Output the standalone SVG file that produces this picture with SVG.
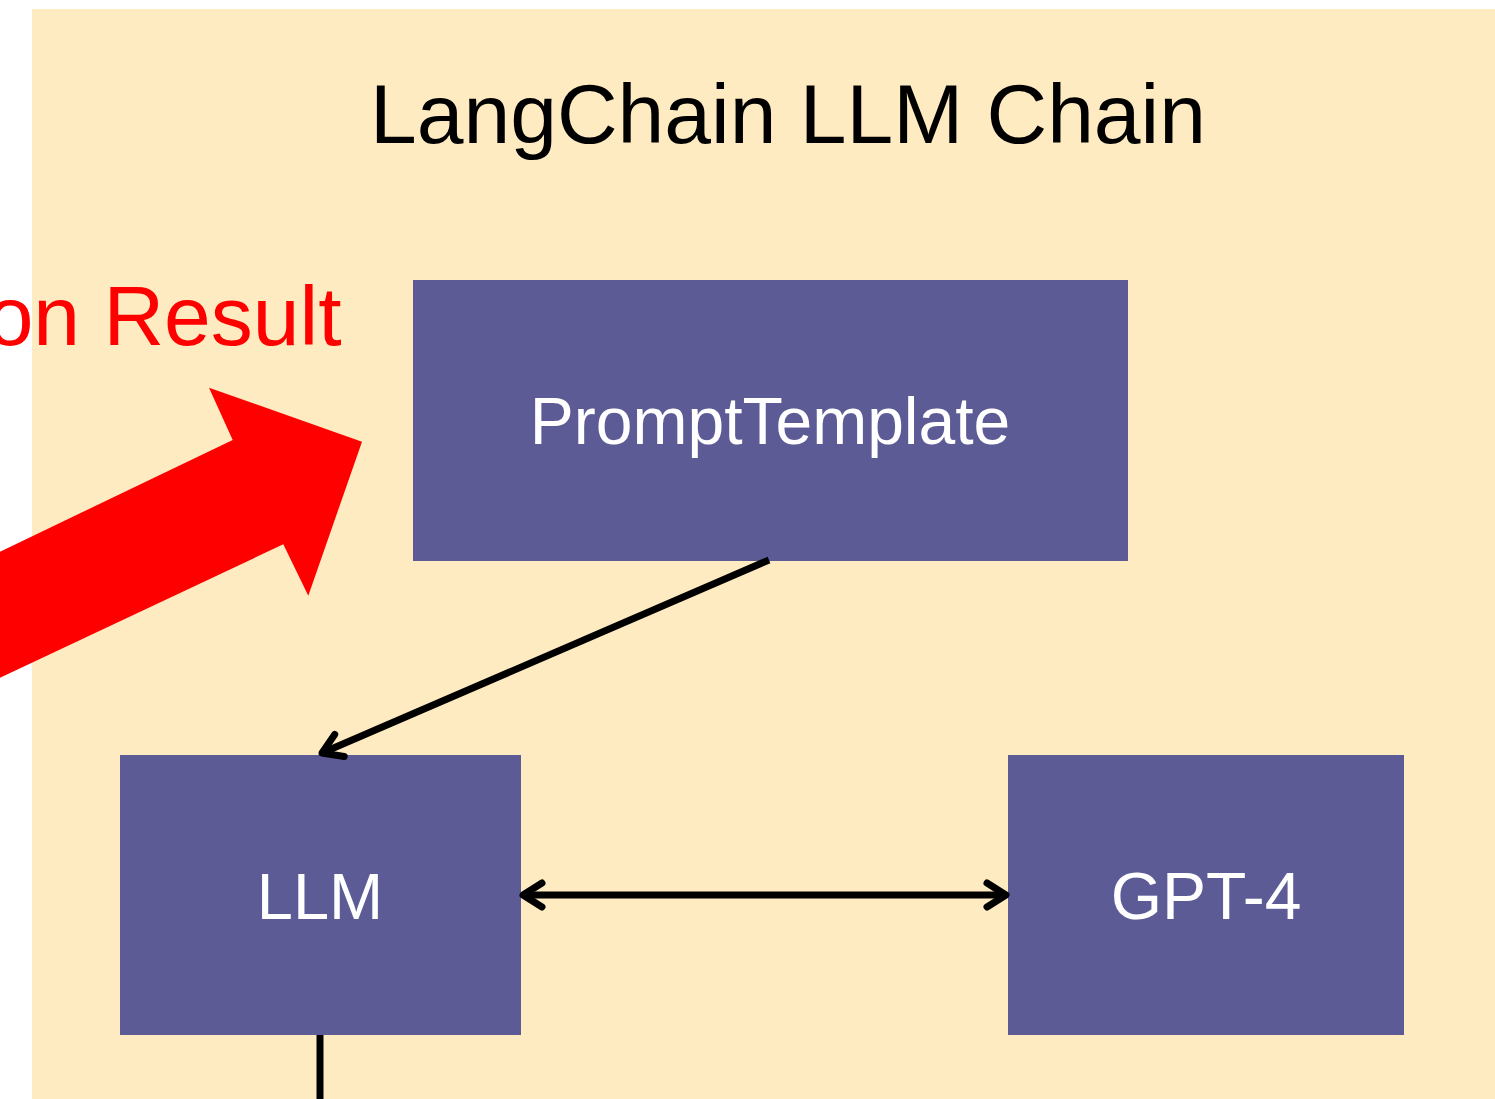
<svg xmlns="http://www.w3.org/2000/svg" width="1495" height="1099" viewBox="0 0 1495 1099">
  <style>
    .node rect { fill: #5c5b96; }
    .node text { fill: #ffffff; font-family: "Liberation Sans", Arial, sans-serif; font-size: 66px; text-anchor: middle; }
    .conn { stroke: #000000; stroke-width: 7; fill: none; }
    .title { fill: #000000; font-family: "Liberation Sans", Arial, sans-serif; font-size: 84px; text-anchor: middle; }
    .note { fill: #ff0000; font-family: "Liberation Sans", Arial, sans-serif; font-size: 84px; text-anchor: end; }
  </style>
  <defs>
    <marker id="arrow" markerUnits="userSpaceOnUse" viewBox="-26 -18 32 36" refX="0" refY="0" markerWidth="32" markerHeight="36" orient="auto-start-reverse">
      <path d="M -19 -12 L 0 0 L -19 12" fill="none" stroke="#000000" stroke-width="7" stroke-linecap="round" stroke-linejoin="round"/>
    </marker>
  </defs>
  <rect id="background" x="32" y="9" width="1463" height="1090" fill="#feebc1"/>
  <text class="title" x="788" y="143">LangChain LLM Chain</text>
  <g id="annotation">
    <text class="note" x="341.5" y="345">on Result</text>
    <polygon points="362,441.7 209,387.7 232.7,440 -100,599.7 -100,725 283.3,544.3 308.3,595.7" fill="#ff0000"/>
  </g>
  <g id="node-prompttemplate" class="node">
    <rect x="413" y="280" width="715" height="281"/>
    <text x="770" y="443.5">PromptTemplate</text>
  </g>
  <g id="node-llm" class="node">
    <rect x="120" y="755" width="401" height="280"/>
    <text x="320" y="918.5" style="font-size:65px">LLM</text>
  </g>
  <g id="node-gpt4" class="node">
    <rect x="1008" y="755" width="396" height="280"/>
    <text x="1206" y="918.5">GPT-4</text>
  </g>
  <g id="connectors">
    <line class="conn" x1="769" y1="560" x2="322" y2="753" marker-end="url(#arrow)"/>
    <line class="conn" x1="523" y1="895" x2="1006" y2="895" marker-start="url(#arrow)" marker-end="url(#arrow)"/>
    <line class="conn" x1="320" y1="1035" x2="320" y2="1099"/>
  </g>
</svg>
